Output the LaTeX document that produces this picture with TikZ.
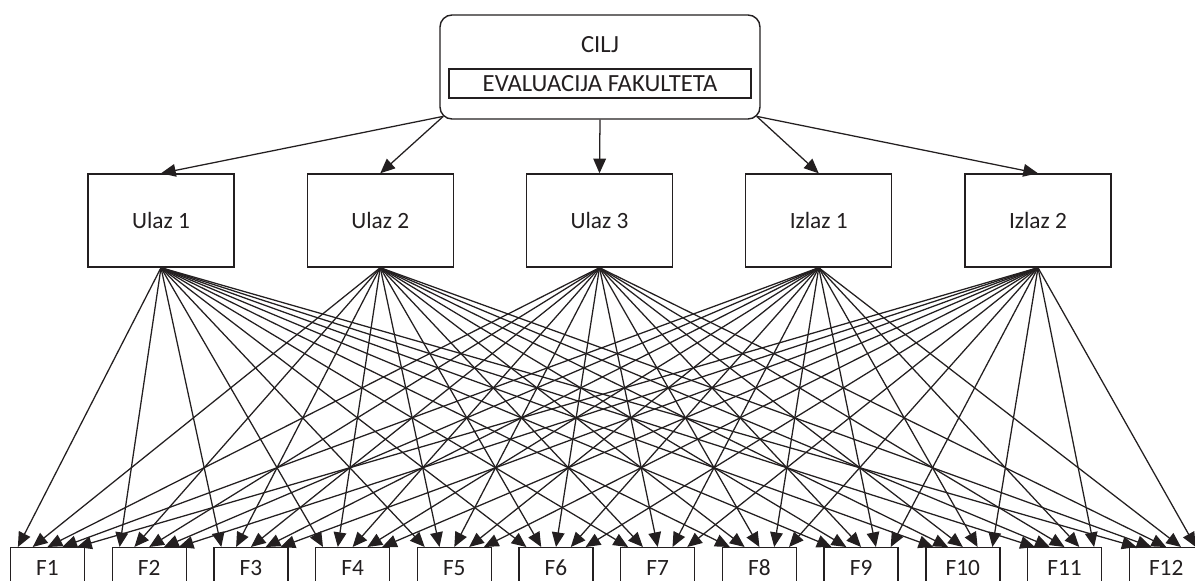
\documentclass[tikz,border=0pt]{standalone}
\usepackage{fontspec}
\setmainfont{Carlito}
\usetikzlibrary{arrows.meta,calc}
\definecolor{ink}{HTML}{231F20}
\begin{document}
\begin{tikzpicture}[x=0.75pt,y=-0.75pt,
  every node/.style={font=\fontsize{17.5}{20}\selectfont, text=ink},
  box/.style={draw=ink, line width=1.05pt, fill=white, inner sep=0pt},
  midbox/.style={box, minimum width=109.5pt, minimum height=69.75pt},
  fbox/.style={box, minimum width=55.5pt, minimum height=30pt, anchor=north},
  arr/.style={draw=ink, line width=0.95pt, -{Triangle[length=11pt,width=9.5pt]}}]
\clip (0,0) rectangle (1195,581);
% top goal box
\node[box, rounded corners=9pt, minimum width=240pt, minimum height=78pt] (cilj) at (600,67) {};
\node[font=\fontsize{18.5}{20}\selectfont] (ciljt) at (600,45) {CILJ};
\node[box, minimum width=226.5pt, minimum height=21.75pt, font=\fontsize{18.5}{20}\selectfont] (eval) at (600,83.5) {EVALUACIJA FAKULTETA};
\coordinate (cl) at ([shift={(3pt,2.5pt)}]cilj.south west);
\coordinate (cr) at ([shift={(-3pt,2.5pt)}]cilj.south east);
% middle boxes
\foreach \l [count=\i] in {Ulaz 1,Ulaz 2,Ulaz 3,Izlaz 1,Izlaz 2}
  \node[midbox] (M\i) at ({161+(\i-1)*219.25},220.5) {\l};
% bottom boxes
\foreach \j in {1,...,12}
  \node[fbox] (F\j) at ({47.5+(\j-1)*101.7},547) {F\j};
% top arrows
\draw[arr] (cl) -- (M1.north);
\draw[arr] (cl) -- (M2.north);
\draw[arr] (cilj.south) -- (M3.north);
\draw[arr] (cr) -- (M4.north);
\draw[arr] (cr) -- (M5.north);
% bottom arrows
\foreach \i in {1,...,5}
  \foreach \j in {1,...,12}
    \draw[arr] (M\i.south) -- ([xshift={(\i-3)*11.1pt}]F\j.north);
\end{tikzpicture}
\end{document}
